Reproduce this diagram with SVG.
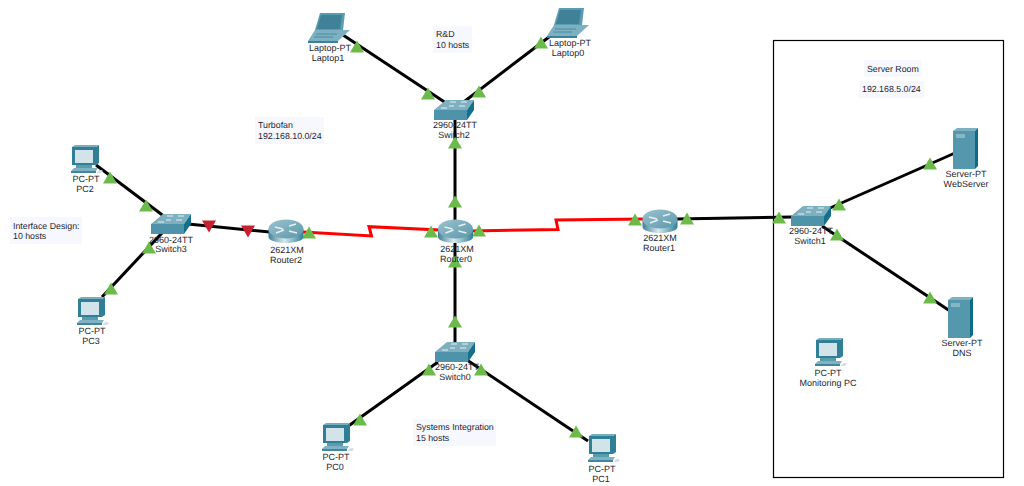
<svg xmlns="http://www.w3.org/2000/svg" xmlns:xlink="http://www.w3.org/1999/xlink" width="1024" height="486" viewBox="0 0 1024 486">
<style>
text{font-family:"Liberation Sans",Arial,sans-serif;font-size:9px;fill:#1c2630;text-anchor:middle;text-rendering:geometricPrecision}
.note text{text-anchor:start;font-size:8.800px}
.note rect{fill:#f7f8fe}
.wire{fill:none;stroke:#000;stroke-width:3}
.serial{fill:none;stroke:#f00;stroke-width:3}
</style>
<defs>
<linearGradient id="drum" x1="0" x2="1" y1="0" y2="0"><stop offset="0" stop-color="#3f8094"/><stop offset=".45" stop-color="#d8e9ee"/><stop offset="1" stop-color="#2f7f95"/></linearGradient>
<linearGradient id="drumTop" x1="0" x2="1" y1="0" y2="1"><stop offset="0" stop-color="#9cc2cf"/><stop offset="1" stop-color="#5b98aa"/></linearGradient>
<polygon id="up" points="0,-6.500 7,5.500 -7,5.500" fill="#6cbb4a"/>
<polygon id="down" points="0,6.500 7,-5.500 -7,-5.500" fill="#c8202f"/>
<g id="router">
<path d="M-17.500-2V6C-17.500 9.500-9 12 0 12S17.500 9.500 17.500 6V-2Z" fill="url(#drum)"/>
<ellipse cy="-2" rx="17.500" ry="9.500" fill="url(#drumTop)"/>
<path d="M-11-4-3-2M3-5 10-7M-10 2-2-1M3 0 11 2" stroke="#e4f0f3" stroke-width="1.400" fill="none"/>
</g>
<g id="switch">
<polygon points="-20,0 -8,-10 20,-10 13,0" fill="#7fb0c0"/>
<rect x="-20" y="0" width="33" height="10" fill="#4f93aa"/>
<polygon points="13,0 20,-10 20,0 13,10" fill="#17708a"/>
<path d="M-13-2-7-2M-4-8 2-8M5-4 11-4M7-8 13-8M-5-4 0-4" stroke="#e6f1f4" stroke-width="1" fill="none"/>
</g>
<g id="pc">
<polygon points="-12,-14 12,-14 15,-16 15,2 12,4 -12,4" fill="#2f7f96"/>
<polygon points="-12,-14 -9,-16 15,-16 12,-14" fill="#79adbd"/>
<rect x="-9" y="-11" width="18" height="13" fill="#d3e3ea"/>
<rect x="-8" y="4" width="16" height="3" fill="#5b9bb0"/>
<polygon points="-13,10 -10,7 14,7 12,10" fill="#7fb2c2"/>
<rect x="-13" y="10" width="25" height="2" fill="#3e879d"/>
<path d="M14 10q3-2 5 0l-2 2h-4z" fill="#cfe0e6"/>
</g>
<g id="laptop">
<polygon points="-9,-14 -5,-14 16,-14 14,3 -14,3" fill="#5a9cb1"/>
<polygon points="-8,-12 13,-12 11,2 -12,2" fill="#3f8197"/>
<polygon points="-14,3 14,3 21,3 9,14 -21,14" fill="#7db1c1"/>
<polygon points="-21,14 9,14 9,16 -21,16" fill="#3a8299"/>
<path d="M-13 7H8M-15 10H4" stroke="#4a8ba0" stroke-width="1"/>
</g>
<g id="server">
<polygon points="-13,-18 -9,-21 12,-21 9,-18" fill="#7fb0c0"/>
<rect x="-13" y="-18" width="22" height="38" fill="#5598ae"/>
<polygon points="9,-18 12,-21 12,17 9,20" fill="#0e6b85"/>
<rect x="-10" y="-15" width="9" height="4" fill="#86b7c6"/>
</g>
</defs>
<rect width="1024" height="486" fill="#fff"/>
<rect x="773.500" y="40.500" width="230" height="437" fill="none" stroke="#000" stroke-width="1.200"/>
<g id="connectors">
<path class="wire" d="M343 35 446 103"/>
<path class="wire" d="M549 37 465 101"/>
<path class="wire" d="M455 118V222"/>
<path class="wire" d="M455 242V345"/>
<path class="wire" d="M438 362 347 427"/>
<path class="wire" d="M467 360 588 441"/>
<path class="wire" d="M96 165 165 217"/>
<path class="wire" d="M162 233 102 297"/>
<path class="wire" d="M188 224 270 232"/>
<path class="wire" d="M676 219 792 217"/>
<path class="wire" d="M830 208 955 153"/>
<path class="wire" d="M822 226 950 311"/>
<path class="serial" d="M303 232 371.500 236 369 226.700 440 230"/>
<path class="serial" d="M470 231 558 229.500 556 220 644 219"/>
</g>
<g id="link-lights">
<use href="#up" x="357" y="47"/><use href="#up" x="428" y="94"/>
<use href="#up" x="541" y="43"/><use href="#up" x="479" y="92"/>
<use href="#up" x="455" y="143"/><use href="#up" x="455" y="202"/>
<use href="#up" x="455" y="262"/><use href="#up" x="455" y="322"/>
<use href="#up" x="360" y="420"/><use href="#up" x="429" y="370"/>
<use href="#up" x="481" y="370"/><use href="#up" x="576" y="432"/>
<use href="#up" x="110" y="178"/><use href="#up" x="146" y="206"/>
<use href="#up" x="149" y="248"/><use href="#up" x="111" y="289"/>
<use href="#down" x="209" y="226"/><use href="#down" x="248" y="231"/>
<use href="#up" x="309" y="233"/><use href="#up" x="431" y="232"/>
<use href="#up" x="479" y="231"/><use href="#up" x="635" y="220"/>
<use href="#up" x="687" y="219"/><use href="#up" x="779" y="218"/>
<use href="#up" x="839" y="205"/><use href="#up" x="930" y="164"/>
<use href="#up" x="837" y="235"/><use href="#up" x="930" y="298"/>
</g>
<g id="Router2"><use href="#router" x="286" y="231"/><text x="287" y="253">2621XM</text><text x="286" y="263">Router2</text></g>
<g id="Router0"><use href="#router" x="455.500" y="231"/><text x="457" y="252">2621XM</text><text x="456" y="262">Router0</text></g>
<g id="Router1"><use href="#router" x="660" y="221"/><text x="660" y="241">2621XM</text><text x="659" y="251">Router1</text></g>
<g id="Switch2"><use href="#switch" x="454" y="110"/><text x="455" y="128">2960-24TT</text><text x="454" y="138">Switch2</text></g>
<g id="Switch3"><use href="#switch" x="171" y="224"/><text x="171" y="243">2960-24TT</text><text x="171" y="252">Switch3</text></g>
<g id="Switch1"><use href="#switch" x="811" y="216"/><text x="811" y="234">2960-24TT</text><text x="810" y="244">Switch1</text></g>
<g id="Switch0"><use href="#switch" x="455" y="352"/><text x="457" y="370">2960-24TT</text><text x="455" y="380">Switch0</text></g>
<g id="Laptop1"><use href="#laptop" x="329" y="27"/><text x="330" y="51">Laptop-PT</text><text x="328" y="61">Laptop1</text></g>
<g id="Laptop0"><use href="#laptop" x="568" y="22"/><text x="570" y="46">Laptop-PT</text><text x="568" y="56">Laptop0</text></g>
<g id="PC2"><use href="#pc" x="84" y="161"/><text x="86" y="182">PC-PT</text><text x="85" y="192">PC2</text></g>
<g id="PC3"><use href="#pc" x="90" y="313"/><text x="92" y="334">PC-PT</text><text x="91" y="344">PC3</text></g>
<g id="PC0"><use href="#pc" x="335" y="439"/><text x="336" y="460">PC-PT</text><text x="335" y="470">PC0</text></g>
<g id="PC1"><use href="#pc" x="601" y="450"/><text x="602" y="472">PC-PT</text><text x="601" y="482">PC1</text></g>
<g id="MonitoringPC"><use href="#pc" x="828" y="354"/><text x="828" y="376">PC-PT</text><text x="828" y="386">Monitoring PC</text></g>
<g id="WebServer"><use href="#server" x="966" y="149"/><text x="966" y="177">Server-PT</text><text x="966" y="187">WebServer</text></g>
<g id="DNS"><use href="#server" x="961" y="318"/><text x="962" y="346">Server-PT</text><text x="962" y="356">DNS</text></g>
<g class="note" id="note-rd"><rect x="433" y="26" width="39" height="27"/><text x="436" y="37">R&amp;D</text><text x="436" y="48">10 hosts</text></g>
<g class="note" id="note-turbofan"><rect x="255" y="117" width="69" height="27"/><text x="258" y="128">Turbofan</text><text x="258" y="139">192.168.10.0/24</text></g>
<g class="note" id="note-interface"><rect x="10" y="217" width="72" height="27"/><text x="13" y="229">Interface Design:</text><text x="13" y="239">10 hosts</text></g>
<g class="note" id="note-systems"><rect x="413" y="419" width="83" height="27"/><text x="416" y="430">Systems Integration</text><text x="416" y="441">15 hosts</text></g>
<g class="note" id="note-room"><rect x="864" y="60" width="57" height="17"/><text x="867" y="72">Server Room</text></g>
<g class="note" id="note-subnet"><rect x="859" y="81" width="65" height="17"/><text x="862" y="92">192.168.5.0/24</text></g>
</svg>
